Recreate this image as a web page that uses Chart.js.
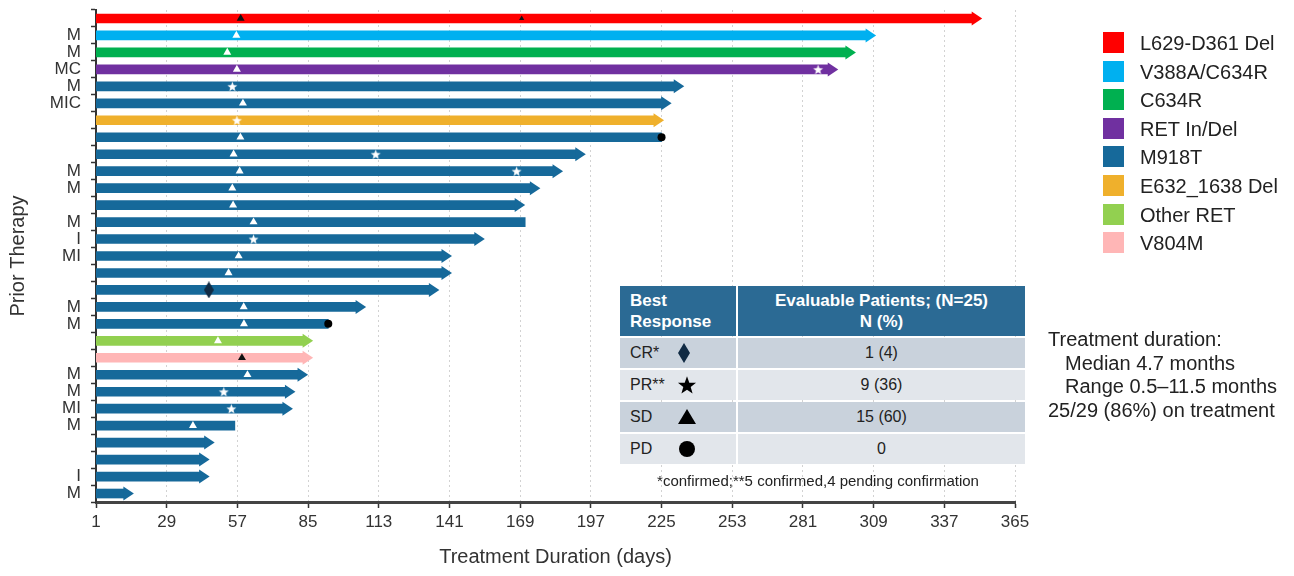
<!DOCTYPE html>
<html>
<head>
<meta charset="utf-8">
<title>Treatment duration by patient</title>
<script src="https://cdn.jsdelivr.net/npm/chart.js@4.4.1/dist/chart.umd.min.js"></script>
<style>
  html, body { margin: 0; padding: 0; background: #fff; }
  #wrap { position: relative; width: 1294px; height: 576px; overflow: hidden;
          font-family: "Liberation Sans", Arial, Helvetica, sans-serif; color: #222; }
  #chart { position: absolute; left: 0; top: 0; }
  .lg { position: absolute; left: 1103px; height: 22px; white-space: nowrap; font-size: 20px; line-height: 22px; }
  .lg i { position: absolute; left: 0; top: 0; width: 21px; height: 21px; }
  .lg span { position: absolute; left: 37px; top: 0; }
  #resp { position: absolute; left: 620px; top: 286px; width: 405px; }
  #resp .row { position: relative; width: 405px; margin-bottom: 2px; }
  #resp .c1, #resp .c2 { position: absolute; top: 0; bottom: 0; }
  #resp .c1 { left: 0; width: 116px; }
  #resp .c2 { left: 118px; right: 0; text-align: center; }
  #resp .head { height: 50px; }
  #resp .head .c1, #resp .head .c2 { background: #2b6a94; color: #fff; font-weight: bold; font-size: 17px; line-height: 21px; padding-top: 4px; box-sizing: border-box; }
  #resp .head .c1 { padding-left: 10px; }
  #resp .body { height: 30px; font-size: 16px; line-height: 30px; }
  #resp .body .c1 { padding-left: 10px; box-sizing: border-box; }
  #resp .body svg { position: absolute; left: 57px; top: 5px; }
  #note { position: absolute; left: 620px; top: 472px; width: 396px; text-align: center; font-size: 15px; line-height: 18px; white-space: nowrap; }
  #summary { position: absolute; left: 1048px; top: 328px; font-size: 20px; line-height: 23.7px; white-space: nowrap; }
  #summary div.ind { padding-left: 17px; }
</style>
</head>
<body>
<div id="wrap">
  <canvas id="chart" width="1294" height="576"></canvas>
  <div id="legend"></div>
  <div id="resp"></div>
  <div id="note">*confirmed;**5 confirmed,4 pending confirmation</div>
  <div id="summary">
    <div>Treatment duration:</div>
    <div class="ind">Median 4.7 months</div>
    <div class="ind">Range 0.5–11.5 months</div>
    <div>25/29 (86%) on treatment</div>
  </div>
</div>
<script>
// ---- data ----
const dayTicks = [1, 29, 57, 85, 113, 141, 169, 197, 225, 253, 281, 309, 337, 365];

// one entry per patient, top to bottom
const priorTherapy = ["", "M", "M", "MC", "M", "MIC", "", "", "", "M", "M", "", "M", "I", "MI",
                      "", "", "M", "M", "", "", "M", "M", "MI", "M", "", "", "I", "M"];
const mutation = ["L629-D361 Del", "V388A/C634R", "C634R", "RET In/Del", "M918T", "M918T",
                  "E632_1638 Del", "M918T", "M918T", "M918T", "M918T", "M918T", "M918T", "M918T",
                  "M918T", "M918T", "M918T", "M918T", "M918T", "Other RET", "V804M", "M918T",
                  "M918T", "M918T", "M918T", "M918T", "M918T", "M918T", "M918T"];
const durationDays = [352, 310, 302, 295, 234, 229, 226, 225, 195, 186, 177, 171, 171, 155, 142,
                      142, 137, 108, 93, 87, 87, 85, 80, 79, 56, 48, 46, 46, 16];
const onTreatment = [1, 1, 1, 1, 1, 1, 1, 0, 1, 1, 1, 1, 0, 1, 1,
                     1, 1, 1, 0, 1, 1, 1, 1, 1, 0, 1, 1, 1, 1];

// response assessments (row index, study day)
const sdRows = [1, 2, 3, 5, 7, 8, 9, 10, 11, 12, 14, 15, 17, 18, 19, 21, 24];
const sdDays = [56.6, 53, 56.8, 59.2, 58.2, 55.5, 57.9, 55, 55.3, 63.4, 57.5, 53.5, 59.5, 59.6, 49.3, 61, 39.4];
const sdOnLightRows = [0, 20];
const sdOnLightDays = [58.3, 58.8];
const sdLateRows = [0];
const sdLateDays = [169.6];
const prRows = [3, 4, 6, 8, 9, 13, 22, 23];
const prDays = [287, 55, 56.8, 111.8, 167.6, 63.4, 51.6, 54.6];
const crRows = [16];
const crDays = [45.7];
const pdRows = [7, 18];
const pdDays = [225, 93];

const mutationNames = ["L629-D361 Del", "V388A/C634R", "C634R", "RET In/Del", "M918T",
                       "E632_1638 Del", "Other RET", "V804M"];
const mutationColors = ["#ff0000", "#00b0f0", "#00b050", "#7030a0", "#16699a",
                        "#efb02c", "#92d050", "#ffb6b6"];

const responseLabels = ["CR*", "PR**", "SD", "PD"];
const responseCounts = ["1 (4)", "9 (36)", "15 (60)", "0"];

// ---- marker images ----
function starImage(outer, inner, fill) {
  const s = Math.ceil(outer * 2) + 2;
  const c = document.createElement('canvas');
  c.width = s; c.height = s;
  const g = c.getContext('2d');
  g.translate(s / 2, s / 2 + outer * 0.1);
  g.beginPath();
  for (let k = 0; k < 10; k++) {
    const r = k % 2 ? inner : outer;
    const a = -Math.PI / 2 + k * Math.PI / 5;
    g.lineTo(r * Math.cos(a), r * Math.sin(a));
  }
  g.closePath();
  g.fillStyle = fill;
  g.fill();
  return c;
}
function diamondImage(w, h, fill) {
  const c = document.createElement('canvas');
  c.width = w; c.height = h;
  const g = c.getContext('2d');
  g.beginPath();
  g.moveTo(w / 2, 0); g.lineTo(w, h / 2); g.lineTo(w / 2, h); g.lineTo(0, h / 2);
  g.closePath();
  g.fillStyle = fill;
  g.fill();
  return c;
}

// ---- arrow heads for patients still on treatment ----
const HEAD_LEN = 10, HEAD_HALF = 7;
const arrowHeads = {
  id: 'arrowHeads',
  afterDatasetUpdate(chart, args) {
    if (args.index !== 0) return;
    args.meta.data.forEach((bar, i) => { if (onTreatment[i]) bar.x -= HEAD_LEN; });
  },
  afterDatasetDraw(chart, args) {
    if (args.index !== 0) return;
    const c = chart.ctx;
    args.meta.data.forEach((bar, i) => {
      if (!onTreatment[i]) return;
      c.save();
      c.fillStyle = bar.options.backgroundColor;
      c.beginPath();
      c.moveTo(bar.x - 0.5, bar.y - HEAD_HALF);
      c.lineTo(bar.x + HEAD_LEN, bar.y);
      c.lineTo(bar.x - 0.5, bar.y + HEAD_HALF);
      c.closePath();
      c.fill();
      c.restore();
    });
  }
};

// row indices are passed straight to the category axis (no label lookup)
const points = (rows, days) => rows.map((r, i) => ({ x: days[i], y: r }));
const FONT = '"Liberation Sans", Arial, sans-serif';

new Chart(document.getElementById('chart'), {
  type: 'bar',
  data: {
    labels: priorTherapy,
    datasets: [
      { type: 'bar', data: durationDays.map(d => [1, d]),
        backgroundColor: mutation.map(m => mutationColors[mutationNames.indexOf(m)]),
        barThickness: 9, borderSkipped: false, order: 10 },
      { type: 'scatter', parsing: false, data: points(sdRows, sdDays), pointStyle: 'triangle', pointRadius: 4.6,
        backgroundColor: '#ffffff', borderWidth: 0, order: 1 },
      { type: 'scatter', parsing: false, data: points(sdOnLightRows, sdOnLightDays), pointStyle: 'triangle', pointRadius: 4.6,
        backgroundColor: '#111111', borderWidth: 0, order: 1 },
      { type: 'scatter', parsing: false, data: points(sdLateRows, sdLateDays), pointStyle: 'triangle', pointRadius: 3,
        backgroundColor: '#111111', borderWidth: 0, order: 1 },
      { type: 'scatter', parsing: false, data: points(prRows, prDays), pointStyle: starImage(5.2, 2.2, '#ffffff'),
        order: 1 },
      { type: 'scatter', parsing: false, data: points(crRows, crDays), pointStyle: diamondImage(10, 17, '#112b44'),
        order: 1 },
      { type: 'scatter', parsing: false, data: points(pdRows, pdDays), pointStyle: 'circle', pointRadius: 4,
        backgroundColor: '#000000', borderWidth: 0, order: 1 }
    ]
  },
  options: {
    indexAxis: 'y',
    responsive: false,
    animation: false,
    devicePixelRatio: 1,
    events: [],
    layout: { padding: { left: 0, right: 279, top: 10, bottom: 0 } },
    plugins: { legend: { display: false }, tooltip: { enabled: false } },
    scales: {
      x: {
        type: 'linear', min: 1, max: 365, offset: false,
        afterBuildTicks: s => { s.ticks = dayTicks.map(v => ({ value: v })); },
        afterFit: s => { s.height = 74; },
        ticks: { font: { family: FONT, size: 17 }, color: '#333', padding: 4, autoSkip: false, maxRotation: 0 },
        grid: { color: '#d2d2d2', tickColor: '#333', tickLength: 6, tickWidth: 1.5, lineWidth: 1 },
        border: { color: '#444', width: 3, dash: [2, 3] },
        title: { display: true, text: 'Treatment Duration (days)', color: '#333',
                 font: { family: FONT, size: 20 }, padding: { top: 0, bottom: 7 } }
      },
      y: {
        type: 'category', offset: true,
        afterFit: s => { s.width = 96; s.paddingTop = 0; s.paddingBottom = 0; },
        ticks: { font: { family: FONT, size: 17 }, color: '#333', padding: 10, autoSkip: false },
        grid: { offset: true, drawOnChartArea: false, tickLength: 5, tickColor: '#333', tickWidth: 1.5 },
        border: { color: '#333', width: 2 },
        title: { display: true, text: 'Prior Therapy', color: '#333',
                 font: { family: FONT, size: 20 }, padding: { top: 6, bottom: 0 } }
      }
    }
  },
  plugins: [arrowHeads]
});

// ---- legend ----
const legend = document.getElementById('legend');
mutationNames.forEach((name, i) => {
  const d = document.createElement('div');
  d.className = 'lg';
  d.style.top = (32 + i * 28.6) + 'px';
  d.innerHTML = '<i style="background:' + mutationColors[i] + '"></i><span></span>';
  d.querySelector('span').textContent = name;
  legend.appendChild(d);
});

// ---- best response table ----
const symbols = [
  '<svg width="14" height="20" viewBox="0 0 14 20"><path d="M7 0 L13 10 L7 20 L1 10 Z" fill="#112b44"/></svg>',
  '<svg width="20" height="20" viewBox="-10 -10 20 20"><path d="' + (() => {
      let p = '';
      for (let k = 0; k < 10; k++) {
        const r = k % 2 ? 3.9 : 9.5, a = -Math.PI / 2 + k * Math.PI / 5;
        p += (k ? 'L' : 'M') + (r * Math.cos(a)).toFixed(2) + ' ' + (r * Math.sin(a) + 0.8).toFixed(2) + ' ';
      }
      return p + 'Z';
    })() + '" fill="#000"/></svg>',
  '<svg width="20" height="20" viewBox="0 0 20 20"><path d="M10 2 L19 17 L1 17 Z" fill="#000"/></svg>',
  '<svg width="20" height="20" viewBox="0 0 20 20"><circle cx="10" cy="10" r="8" fill="#000"/></svg>'
];
const rowBg = ['#c9d2dc', '#e2e6eb', '#c9d2dc', '#e2e6eb'];
const resp = document.getElementById('resp');
let html = '<div class="row head"><div class="c1">Best<br>Response</div>' +
           '<div class="c2">Evaluable Patients; (N=25)<br>N (%)</div></div>';
responseLabels.forEach((lab, i) => {
  html += '<div class="row body"><div class="c1" style="background:' + rowBg[i] + '">' + lab + symbols[i] +
          '</div><div class="c2" style="background:' + rowBg[i] + '">' + responseCounts[i] + '</div></div>';
});
resp.innerHTML = html;
</script>
</body>
</html>
